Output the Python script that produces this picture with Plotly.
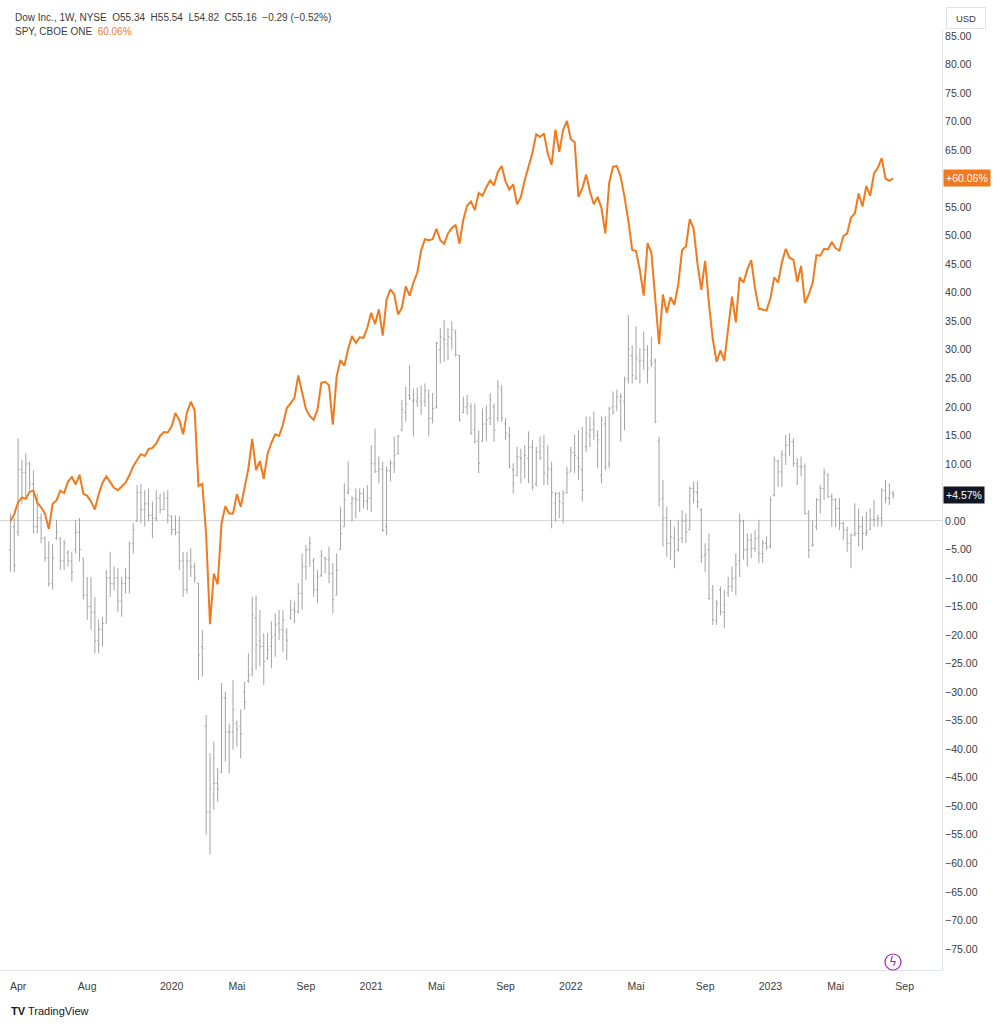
import pandas as pd
import plotly.graph_objects as go

# weekly bars, first bar = week of 2019-03-18, last = week of 2023-08-14
weeks = pd.date_range("2019-03-18", periods=231, freq="W-MON")

# Dow Inc. weekly bars, % change vs. first close (as TradingView shows in % mode)
dow_open = [
    -5, -1, -2, 9, 8.5, 10, 6.5, -1, 0.5, -3,
    -6.5, -11, -3, -3, -7, -5.5, -7, -5, -2, -6.5,
    -13, -15, -16, -21, -19, -17.9, -10, -11, -10, -14,
    -11, -10, -4, -0.1, 5, 2, 3, 1, 0.5, 4,
    2, 4, 0.8, -1.5, -2, -7, -12, -7, -8, -10.9,
    -22, -36, -51, -48, -46, -44, -31, -37, -37, -35.5,
    -36, -30, -28, -26, -17, -21, -22, -24, -22, -20,
    -18, -19, -19.5, -17, -15.5, -15.9, -12.7, -8, -5, -7,
    -12, -9.5, -6.5, -6.8, -9.2, -13, -5, -1, 5, 3,
    3.9, 3.7, 4.8, 3.5, 4, 10, 8.7, 9, -1, 8.8,
    10, 11.8, 16, 19, 22, 21, 21, 21, 21, 22,
    18, 20, 30, 32, 31, 32, 33, 29, 19, 20,
    20, 16, 14, 14, 17, 18, 20, 18, 23, 17,
    15, 9, 8, 11, 10, 11, 13, 6.5, 12, 13,
    8, 9, 3, 4.8, 3, 5, 8.6, 12, 11, 9,
    13, 15, 16, 15, 8, 17, 10, 20, 20, 21,
    21, 25, 29, 25, 28, 28, 30, 28, 28, 14,
    4, 0.5, -4, -3, -5, -3, 0, -1.5, 5.7, 5,
    2, -6, -5, -12, -17.5, -12, -16, -12.5, -11.5, -10,
    -7, 0, -5, -3.3, -4.8, -3, -5.7, -3.9, -4.5, 4.5,
    10.5, 8.6, 11.6, 13.3, 13.9, 10, 9.5, 9.5, 1.3, -4.3,
    -1, 3.7, 5.7, 8, 4.3, 3.7, 2.2, -0.4, -1.6, -3.9,
    -2.5, -2.2, -1, -2.2, -1.5, 0.2, 0.2, 0.5, 5.4, 4,
    4.91,
]
dow_high = [
    1.3, 0.5, 14.5, 10.7, 11.9, 10.4, 8.9, 4.8, 1.3, -2.7,
    -3.6, -4, 0.2, -3, -3.3, -5.1, -5.4, 0.2, 0.5, -6.5,
    -9.8, -9.8, -13.3, -17.3, -16.8, -8.6, -5.4, -8, -8.3, -9.8,
    -8.3, -3.6, -0.4, 6.3, 6.5, 5.4, 5.7, 3.4, 5.4, 4.8,
    5.1, 5.4, 1, 1, 0.8, -5.4, -5.4, -4.8, -7.4, -10.9,
    -19.1, -34, -40.7, -38.7, -43.3, -28.4, -29.9, -35.5, -27.9, -35,
    -33, -28.2, -23.2, -13.3, -13.1, -15.6, -19.7, -19.7, -17.6, -16.2,
    -15.6, -15.6, -18.8, -13.8, -14.1, -10.9, -5.7, -4.2, -2.7, -6.5,
    -8.6, -5.1, -6.3, -4.5, -7.4, -5.7, 2.5, 6.6, 10.4, 4.3,
    5.7, 5.7, 5.7, 6.3, 13.3, 16.2, 11.3, 10.4, 9.5, 10.7,
    14.8, 15.1, 21.2, 23.5, 27.3, 23.2, 23.4, 23.8, 24.1, 23,
    22.4, 31.4, 33.8, 35.2, 33.8, 35, 33.5, 29.1, 21.8, 22.1,
    20.6, 20.6, 15.9, 19.7, 20.3, 22.4, 20.6, 24.7, 23.8, 18,
    16.5, 10.1, 13, 12.7, 13.3, 15.7, 14.2, 13, 14.8, 15.1,
    13.3, 10.4, 5.1, 5.1, 5.4, 9.5, 13, 15.1, 15.9, 16.5,
    18.3, 18.3, 19.2, 15.9, 18.3, 18.3, 20, 22.7, 23, 22.4,
    25.3, 36.1, 30.8, 34.1, 30.3, 33.2, 30.8, 32.3, 28.5, 14.8,
    7.2, 2.5, 0.2, -1, 0.2, 1.9, 1.3, 6, 6.9, 6.9,
    2.2, -3.9, -2.2, -11.2, -13.8, -11.5, -12.1, -9.8, -8, -5.7,
    1.3, 0.2, -2.2, -2.2, -1.6, 0.2, -3.3, -2.7, 4.3, 11.3,
    10.7, 12.4, 15.1, 15.4, 14.5, 11, 11.3, 10.1, 1.9, 0.2,
    4, 6.3, 9.2, 8.4, 4.8, 4, 4, -0.1, -1, -2.2,
    3.1, 2.2, 0.8, 1.6, 2.2, 3.7, 1.1, 5.7, 7.2, 6.6,
    5.29,
]
dow_low = [
    -8.9, -9, -2.7, 3, 4.3, 5.4, -2.2, -2.2, -3.9, -7.1,
    -11.5, -12, -3.3, -8.6, -8.6, -8, -10.6, -5.7, -7.1, -13.8,
    -17.3, -19.1, -23.2, -23.2, -22, -17.9, -13.3, -12.1, -15.9, -16.8,
    -12.7, -12.7, -5.7, -0.1, -0.4, -1, -0.1, -3, -0.1, 1.3,
    1.9, -0.4, -2.5, -2.5, -8.6, -13.3, -12.7, -9.8, -10.9, -27.9,
    -27.3, -55, -58.5, -50.6, -49.2, -44.2, -42.2, -44.2, -40.1, -39.5,
    -41.6, -33.1, -28.4, -27.3, -26.1, -25.5, -28.7, -24.4, -25.8, -23.8,
    -20.9, -22.9, -24.4, -17.3, -17.9, -16.2, -15.6, -10.3, -8, -13.3,
    -14.4, -9.8, -9.2, -10.9, -16.2, -13, -5.1, -1, 4.6, -0.1,
    0.5, 1.6, 2.2, 1.9, 1.6, 8.4, 6.6, -1.9, -2.5, 6.9,
    8.4, 11.6, 15.7, 17.4, 21.2, 14.8, 20, 18.6, 20, 14.8,
    17.1, 19.7, 27.6, 27.9, 28.2, 30, 28.8, 17.4, 18.9, 18.6,
    15.1, 13.6, 8.4, 13.9, 13.9, 16.8, 13.9, 17.4, 17.4, 14.2,
    9.2, 4.8, 7.8, 6.6, 7.5, 6.6, 5.4, 6, 10.7, 6.3,
    6.3, -1.3, -0.1, 0.5, -0.4, 4.8, 8.6, 8.4, 7.2, 3.4,
    12.1, 13, 14.2, 9.2, 6.6, 8.9, 9.2, 18.6, 19.2, 13.9,
    15.9, 24.1, 24.1, 24.7, 24.1, 26.5, 24.1, 27, 17.1, 2.5,
    -4.5, -6.3, -6.8, -8.3, -5.4, -3.9, -3.9, -1.6, 3.1, 2.2,
    -7.4, -8.9, -13.8, -18.2, -18.2, -16.5, -18.8, -13.3, -12.4, -13,
    -9.8, -6.8, -8, -6.5, -5.4, -7.4, -7.4, -5.1, -4.8, 4.3,
    6, 6, 9.8, 11.3, 9.5, 6.3, 7.8, 1.1, -6.5, -4.5,
    -1.6, 1.3, 3.7, 4, -1, -1, -1.6, -3.3, -5.4, -8.3,
    -2.7, -4.5, -5.1, -2.7, -1.6, -1, -1, -1, 3.1, 2.8,
    3.92,
]
dow_close = [
    0, -7.8, 9, 8.5, 10, 6.5, -1, 0.5, -3, -6.5,
    -11, -6.5, -2, -7, -4, -7, -9, -2, -5, -13,
    -15, -16, -21, -19, -18, -10, -11, -10, -14, -11,
    -10, -4, -1.5, 5, 2, 3, 1, 0.5, 4, 2,
    4, 1, -1.5, -2, -7, -12, -7, -8, -10, -23.5,
    -22.3, -51, -47, -46, -47, -31, -37, -37, -33, -36.5,
    -37.3, -31.7, -27, -16.5, -21.7, -22, -24.6, -22.6, -20.3, -18.2,
    -19.1, -17.3, -20.9, -15.6, -15.9, -12.7, -8, -5.1, -3.9, -12.1,
    -9.8, -6, -6.8, -9.2, -13.8, -8.6, -2.2, 3.7, 5.5, 3.9,
    3.7, 4.8, 3.5, 4, 10.1, 8.7, 9.1, -1.6, 8.8, 10.1,
    11.5, 14.8, 19.5, 20.5, 21.5, 21.2, 21.5, 20.6, 22.9, 18,
    19.7, 31.1, 32.3, 31.7, 32.3, 33.5, 29.1, 17.7, 20, 20.5,
    15.4, 13.9, 10.1, 17, 17.7, 21.2, 15.9, 23.5, 18, 15.4,
    9.5, 6.6, 11.3, 11, 11.5, 12.9, 6, 12.1, 11, 8.4,
    9.2, 5, 4.8, 3.4, 4.8, 8.4, 12.1, 11.5, 9.5, 5.4,
    15.4, 16, 17, 14.2, 17.7, 9.5, 19.7, 19, 21.8, 21.8,
    24.7, 30.1, 25.5, 28.5, 28.2, 30, 26.8, 27.6, 17.4, 3.7,
    0.5, -3.9, -2.8, -5.4, -3.3, -0.1, -1.9, 5.7, 5.1, 3.4,
    -6.3, -5.7, -13.6, -17.3, -14.4, -15.9, -14.7, -11.5, -10.1, -7.6,
    -0.1, -5.1, -3.3, -4.8, -3.1, -5.7, -3.9, -4.5, 3.7, 10.7,
    8.6, 11.6, 13.3, 13.9, 10.1, 9.5, 9.5, 1.3, -5.1, -4.2,
    3.7, 5.7, 8.4, 4.3, 3.7, 2.2, -0.4, -1.6, -3.9, -2.5,
    -2.2, -1, -2.2, -1.9, 0.2, 0.2, 0.5, 5.4, 4, 4.9,
    4.57,
]

# SPY weekly close, % change vs. first close
spy_pct = [
    0, 1.2, 3.3, 4.1, 3.9, 5.1, 5.3, 3.2, 2.4, 1.3,
    -1.4, 3.0, 3.6, 5.3, 4.9, 6.9, 7.7, 6.4, 8.1, 4.8,
    4.4, 3.4, 2.0, 4.7, 6.7, 7.8, 6.8, 5.8, 5.4, 6.1,
    6.7, 8.0, 9.6, 10.7, 11.7, 11.4, 12.6, 12.8, 13.6, 14.9,
    15.6, 15.5, 16.6, 18.9, 17.7, 15.2, 19.0, 20.9, 19.4, 6.1,
    6.5, -2.5, -18.1, -9.2, -11.1, -0.4, 2.6, 1.3, 1.3, 4.7,
    2.5, 5.8, 9.2, 14.4, 8.9, 10.5, 7.4, 11.8, 13.7, 15.2,
    14.9, 16.9, 19.8, 20.6, 21.6, 25.5, 22.7, 19.6, 18.4, 17.7,
    19.5, 24.2, 24.4, 23.8, 16.9, 25.4, 28.2, 27.2, 30.2, 32.4,
    31.2, 32.2, 32.1, 33.9, 36.5, 34.5, 37.1, 32.5, 38.8, 40.6,
    39.7, 36.2, 37.4, 41.1, 39.5, 41.8, 43.5, 47.4, 49.4, 49.2,
    49.4, 51.2, 49.2, 48.6, 50.4, 51.3, 51.9, 48.6, 52.8, 55.3,
    56.0, 54.5, 57.5, 57.0, 58.5, 59.7, 58.8, 61.2, 62.2, 59.5,
    58.1, 59.0, 55.5, 56.8, 59.7, 62.3, 64.5, 67.8, 67.3, 67.9,
    64.4, 62.4, 68.6, 64.7, 68.5, 70.1, 66.9, 66.4, 56.8, 58.3,
    60.7, 57.7, 55.5, 56.8, 54.8, 50.4, 59.2, 62.1, 62.2, 60.3,
    56.8, 52.6, 47.5, 47.3, 43.9, 39.5, 48.7, 47.0, 39.6, 31.0,
    39.7, 36.5, 39.2, 37.9, 41.5, 47.5, 48.1, 52.9, 51.2, 45.1,
    40.5, 45.6, 38.1, 31.8, 27.9, 29.9, 28.1, 34.0, 39.3, 34.8,
    42.7, 41.8, 44.1, 45.7, 40.8, 37.2, 37.1, 36.9, 39.0, 42.7,
    41.8, 45.3, 47.7, 46.1, 45.8, 41.9, 44.7, 38.2, 39.7, 41.7,
    46.6, 46.5, 47.7, 47.6, 48.9, 47.8, 47.4, 49.9, 50.4, 53.2,
    53.9, 57.4, 55.1, 58.7, 57.0, 60.9, 61.9, 63.6, 60.0, 59.6,
    60.06,
]

# x labels sit on the first weekly bar of the month
tick_dates = ["2019-04-01", "2019-08-05", "2020-01-06", "2020-05-04", "2020-09-07",
              "2021-01-04", "2021-05-03", "2021-09-06", "2022-01-03", "2022-05-02",
              "2022-09-05", "2023-01-02", "2023-05-01", "2023-09-04"]
tick_text = ["Apr", "Aug", "2020", "Mai", "Sep", "2021", "Mai", "Sep",
             "2022", "Mai", "Sep", "2023", "Mai", "Sep"]
# 60% and 5% sit under the last-value labels, so they are not drawn
y_ticks = [-75, -70, -65, -60, -55, -50, -45, -40, -35, -30, -25, -20, -15, -10, -5,
           0, 10, 15, 20, 25, 30, 35, 40, 45, 50, 55, 65, 70, 75, 80, 85]

ORANGE = "#f07a1d"
GREY = "#a3a3a3"
TEXT = "#3b3b3b"
FONT = "Liberation Sans"

W, H = 1000, 1027
M_L, M_R, M_T, M_B = 0, 58, 30, 57


def px_x(x):
    return (x - M_L) / (W - M_L - M_R)


def px_y(y):
    return (H - M_B - y) / (H - M_T - M_B)


fig = go.Figure()
fig.add_trace(go.Ohlc(
    x=weeks, open=dow_open, high=dow_high, low=dow_low, close=dow_close,
    increasing_line_color=GREY, decreasing_line_color=GREY,
    line_width=1, tickwidth=0.35, name="DOW",
))
fig.add_trace(go.Scatter(
    x=weeks, y=spy_pct, mode="lines", name="SPY",
    line=dict(color=ORANGE, width=2),
))

fig.update_layout(
    width=W, height=H,
    margin=dict(l=M_L, r=M_R, t=M_T, b=M_B),
    paper_bgcolor="white", plot_bgcolor="white",
    showlegend=False,
    font=dict(family=FONT, size=10, color=TEXT),
    xaxis=dict(
        range=["2019-02-27", "2023-11-11"],
        rangeslider_visible=False,
        tickvals=tick_dates, ticktext=tick_text,
        showgrid=False, zeroline=False,
        showline=True, linecolor="#e0e3eb", linewidth=1,
        ticks="", ticklabelstandoff=6, tickfont=dict(size=10.5, color=TEXT),
    ),
    yaxis=dict(
        side="right", range=[-78.7, 86.05],
        tickvals=y_ticks, tickformat=".2f", ticksuffix="%",
        showgrid=False,
        zeroline=True, zerolinecolor="#d6d8de", zerolinewidth=1,
        showline=True, linecolor="#e0e3eb", linewidth=1, mirror=False,
        ticks="", tickfont=dict(size=10.5, color=TEXT),
    ),
)

# header legend
fig.add_annotation(
    xref="paper", yref="paper", x=px_x(13), y=px_y(17), xanchor="left", yanchor="middle",
    text="Dow Inc., 1W, NYSE\u00a0\u00a0O55.34\u00a0\u00a0H55.54\u00a0\u00a0L54.82\u00a0\u00a0C55.16\u00a0\u00a0\u22120.29 (\u22120.52%)",
    showarrow=False, font=dict(size=10, color=TEXT),
)
fig.add_annotation(
    xref="paper", yref="paper", x=px_x(13), y=px_y(32), xanchor="left", yanchor="middle",
    text=f"SPY, CBOE ONE\u00a0\u00a0<span style='color:{ORANGE}'>60.06%</span>",
    showarrow=False, font=dict(size=10, color=TEXT),
)
# currency box
fig.add_annotation(
    xref="paper", yref="paper", x=px_x(966), y=px_y(18), xanchor="center", yanchor="middle",
    text="USD", showarrow=False, font=dict(size=9.5, color=TEXT),
    width=34, height=16,
    bordercolor="#e0e3eb", borderwidth=1, borderpad=2, bgcolor="white",
)
# last value labels on the price scale
fig.add_annotation(
    xref="paper", yref="y", x=1, y=spy_pct[-1], xanchor="left", yanchor="middle", xshift=1,
    text=f"+{spy_pct[-1]:.2f}%", showarrow=False, font=dict(size=10.5, color="white"),
    bgcolor=ORANGE, borderpad=2,
)
fig.add_annotation(
    xref="paper", yref="y", x=1, y=dow_close[-1], xanchor="left", yanchor="middle", xshift=1,
    text=f"+{dow_close[-1]:.2f}%", showarrow=False, font=dict(size=10.5, color="white"),
    bgcolor="#131722", borderpad=2,
)
# small purple badge near the bottom right of the pane
fig.add_shape(
    type="circle", xref="paper", yref="paper", xsizemode="pixel", ysizemode="pixel",
    xanchor=px_x(893), yanchor=px_y(962), x0=-8, x1=8, y0=-8, y1=8,
    line=dict(color="#9c27b0", width=1.2), fillcolor="white",
)
fig.add_annotation(
    xref="paper", yref="paper", x=px_x(893), y=px_y(962), xanchor="center", yanchor="middle",
    text="ϟ", showarrow=False, font=dict(family="DejaVu Sans", size=12, color="#9c27b0"),
)
# logo
fig.add_annotation(
    xref="paper", yref="paper", x=px_x(9), y=px_y(1011), xanchor="left", yanchor="middle",
    text="<b>TV</b> TradingView", showarrow=False, font=dict(size=11, color="#131722"),
)

fig.write_html("out.html", config={"displayModeBar": False},
               post_script="document.body.style.margin='0';")
